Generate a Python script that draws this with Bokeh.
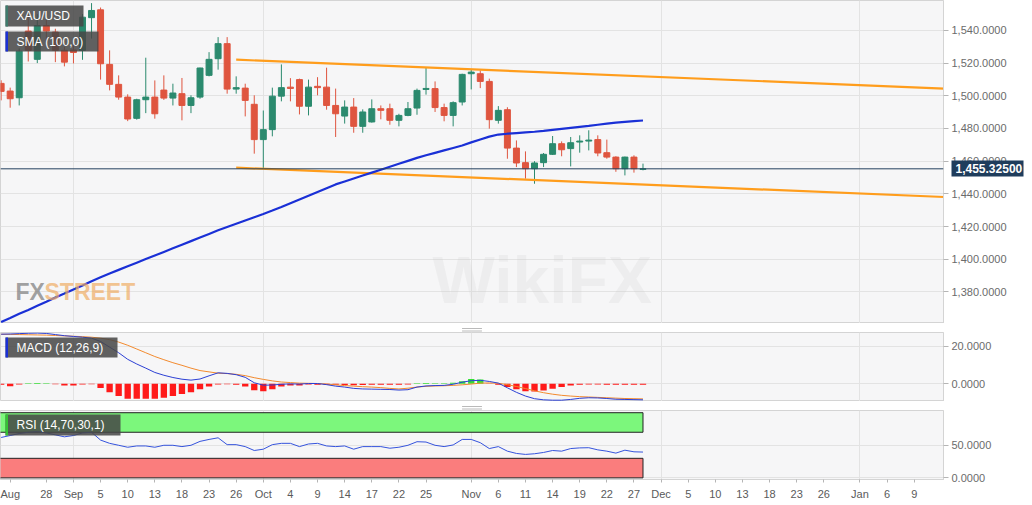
#!/usr/bin/env python3

import numpy as np
import pandas as pd
from bokeh.embed import file_html
from bokeh.layouts import column
from bokeh.models import (BoxAnnotation, ColumnDataSource, FixedTicker, Label,
                          LinearAxis, NumeralTickFormatter, Range1d, Span)
from bokeh.plotting import figure
from bokeh.resources import INLINE


# daily XAU/USD candles, 21 Aug - 28 Nov 2019
dates = pd.bdate_range("2019-08-21", "2019-11-28")

opens = [1507.6, 1502.9, 1498.8, 1539.6, 1522.3, 1543.0, 1539.0, 1527.8,
         1528.0, 1527.8, 1547.8, 1552.6, 1519.2, 1507.0, 1499.2, 1486.2, 1497.6, 1499.2,
         1503.5, 1498.6, 1501.3, 1494.1, 1499.2, 1512.5, 1522.7, 1531.9, 1504.1, 1504.7,
         1494.8, 1473.2, 1479.3, 1499.8, 1505.3, 1509.9, 1493.6, 1505.8, 1505.3, 1494.1,
         1487.6, 1493.1, 1481.3, 1484.0, 1492.1, 1492.1, 1485.0, 1488.0, 1492.5, 1503.9,
         1504.4, 1492.8, 1488.0, 1496.2, 1513.5, 1513.5, 1508.8, 1485.0, 1491.5, 1468.0,
         1459.1, 1455.4, 1459.1, 1464.2, 1470.7, 1467.7, 1471.7, 1472.3, 1473.2, 1465.2,
         1462.5, 1455.4, 1462.5, 1455.0]
highs = [1509.5, 1505.0, 1529.0, 1550.0, 1550.0, 1547.0, 1541.0, 1530.0,
         1531.0, 1550.0, 1556.7, 1554.0, 1527.8, 1512.5, 1500.9, 1498.2, 1523.3, 1509.4,
         1512.5, 1507.4, 1510.9, 1500.3, 1517.2, 1526.7, 1535.9, 1535.9, 1511.9, 1507.4,
         1500.3, 1491.0, 1505.0, 1519.2, 1510.8, 1510.5, 1509.9, 1511.4, 1517.2, 1504.4,
         1497.2, 1498.6, 1491.7, 1497.8, 1494.1, 1495.2, 1489.0, 1496.2, 1504.4, 1517.6,
         1508.8, 1495.2, 1496.6, 1513.5, 1516.2, 1515.5, 1510.5, 1493.7, 1493.0, 1472.7,
         1466.0, 1460.0, 1465.0, 1475.4, 1472.1, 1474.8, 1475.8, 1478.9, 1475.8, 1473.2,
         1463.0, 1462.8, 1463.6, 1458.5]
lows = [1497.2, 1492.7, 1494.1, 1521.0, 1520.0, 1532.0, 1520.6, 1518.0,
        1519.8, 1522.0, 1535.0, 1509.9, 1503.3, 1497.6, 1484.5, 1485.4, 1489.4, 1486.0,
        1497.5, 1494.1, 1485.0, 1489.4, 1498.2, 1511.9, 1516.0, 1501.3, 1501.3, 1487.4,
        1464.6, 1455.8, 1475.2, 1496.6, 1496.6, 1488.6, 1488.0, 1500.3, 1491.5, 1474.8,
        1483.0, 1477.4, 1477.4, 1483.6, 1485.6, 1482.3, 1481.3, 1487.5, 1488.4, 1500.7,
        1490.1, 1484.4, 1481.3, 1494.1, 1503.9, 1504.7, 1479.9, 1483.0, 1461.5, 1456.4,
        1449.3, 1446.2, 1456.4, 1463.8, 1463.0, 1456.8, 1465.2, 1466.6, 1463.0, 1461.5,
        1453.5, 1451.3, 1453.0, 1454.4]
closes = [1502.7, 1498.2, 1527.3, 1527.8, 1543.0, 1539.6, 1527.8, 1520.6,
          1526.5, 1548.1, 1552.2, 1519.6, 1507.0, 1499.2, 1485.8, 1497.6, 1499.2, 1489.0,
          1498.6, 1501.7, 1494.1, 1498.8, 1517.0, 1522.3, 1531.9, 1504.1, 1505.0, 1497.2,
          1473.2, 1479.3, 1499.8, 1505.0, 1504.5, 1493.6, 1505.3, 1505.0, 1494.1, 1489.0,
          1493.1, 1481.3, 1490.1, 1492.1, 1491.1, 1485.0, 1488.0, 1492.1, 1503.3, 1504.5,
          1492.8, 1488.0, 1495.8, 1513.1, 1514.5, 1508.8, 1485.4, 1491.1, 1468.0, 1458.9,
          1455.4, 1458.9, 1464.2, 1470.7, 1467.0, 1471.3, 1472.3, 1472.9, 1465.0, 1462.5,
          1455.4, 1462.5, 1455.4, 1455.3]

sma_100 = [1361.6, 1364.0, 1366.6, 1369.0, 1371.5, 1374.0, 1376.6, 1379.0,
           1381.5, 1384.0, 1386.6, 1389.0, 1391.3, 1393.5, 1395.7, 1397.9, 1400.1, 1402.3,
           1404.5, 1406.7, 1408.9, 1411.1, 1413.3, 1415.5, 1417.7, 1419.7, 1421.7, 1423.7,
           1425.7, 1427.7, 1429.8, 1432.0, 1434.3, 1436.6, 1438.9, 1441.2, 1443.5, 1445.8,
           1447.6, 1449.4, 1451.2, 1453.0, 1454.8, 1456.6, 1458.4, 1460.2, 1462.0, 1463.6,
           1465.1, 1466.6, 1468.1, 1469.6, 1471.5, 1473.3, 1475.0, 1476.3, 1476.8, 1477.2,
           1477.6, 1478.0, 1478.5, 1479.2, 1479.8, 1480.4, 1481.0, 1481.6, 1482.3, 1483.0,
           1483.6, 1484.1, 1484.5, 1484.9]

macd_line = [26.4, 26.5, 26.7, 26.9, 27.0, 26.8, 26.2, 25.6,
             25.2, 24.8, 24.3, 22.5, 19.5, 16.5, 13.0, 10.5, 8.3, 6.0,
             4.5, 3.3, 2.4, 1.9, 2.5, 4.2, 5.8, 5.5, 4.8, 3.4,
             0.5, -0.8, -0.7, -0.3, -0.1, -0.2, 0.1, 0.1, -0.5, -1.3,
             -1.8, -2.5, -2.8, -2.9, -3.0, -3.1, -3.4, -3.2, -1.8, -1.2,
             -1.0, -0.9, -0.3, 0.8, 1.6, 1.8, 1.2, 0.3, -2.2, -4.6,
             -6.6, -8.0, -8.6, -8.8, -8.8, -8.4, -7.8, -7.5, -7.6, -7.9,
             -8.3, -8.4, -8.5, -8.6]
macd_signal = [26.4, 26.3, 26.2, 26.1, 26.0, 25.9, 25.7, 25.5,
               25.3, 25.1, 24.8, 24.3, 23.5, 22.2, 20.5, 18.5, 16.5, 14.5,
               12.8, 11.2, 9.8, 8.3, 7.0, 6.3, 5.6, 5.4, 5.0, 4.3,
               3.2, 2.3, 1.5, 0.9, 0.6, 0.3, 0.2, 0.1, -0.2, -0.6,
               -1.0, -1.3, -1.6, -1.8, -2.1, -2.5, -2.8, -2.4, -1.8, -1.4,
               -1.2, -1.1, -0.9, -0.6, -0.2, 0.3, 0.4, 0.2, -0.5, -1.5,
               -2.6, -3.8, -4.8, -5.6, -6.2, -6.6, -6.9, -7.1, -7.3, -7.5,
               -7.7, -7.9, -8.0, -8.1]
macd_hist = [-0.5, -1.4, -0.4, 0.3, 0.4, 0.2, -0.3, -1.0,
             -1.0, -0.4, -0.3, -2.3, -4.5, -6.5, -8.0, -8.0, -8.0, -8.0,
             -7.5, -6.5, -5.5, -4.5, -3.0, -1.5, -0.4, -0.3, -0.5, -1.5,
             -3.5, -4.0, -3.0, -1.5, -1.0, -1.0, -0.4, -0.5, -0.5, -0.6,
             -0.7, -0.8, -0.7, -0.6, -0.5, -0.5, -0.6, -0.4, 0.3, 0.4,
             0.2, 0.2, 0.5, 1.3, 2.5, 2.2, -0.2, -0.5, -1.8, -3.0,
             -4.0, -4.2, -3.6, -2.7, -1.8, -0.9, -0.5, -0.4, -0.4, -0.5,
             -0.5, -0.5, -0.5, -0.5]

rsi_14 = [62, 65, 68, 70, 71, 69, 66, 63,
          65, 69, 70, 58, 53, 50, 47, 49, 49, 47,
          50, 50, 48, 50, 56, 59, 61.5, 51, 51, 48,
          42, 44, 51, 53, 53, 48, 52, 53, 49, 48,
          49, 44, 48, 48, 48, 45.5, 47, 50, 55.5, 55,
          50, 48, 50.5, 59, 59, 54, 45, 48, 41, 37.5,
          36, 37, 39, 42, 41, 45, 46, 46.3, 43, 41,
          38, 42.5, 40, 39.6]

last_price = 1455.325
trend_dates = ["2019-09-26", "2020-01-16"]
trend_upper = [1522.1, 1504.0]
trend_lower = [1456.0, 1437.7]

price_ticks = [1380, 1400, 1420, 1440, 1460, 1480, 1500, 1520, 1540]
macd_ticks = [0, 20]
rsi_ticks = [0, 50]
rsi_zones = [(70, 100, "#7cf77c"), (0, 30, "#fa7d7d")]

tick_dates = ["2019-08-22", "2019-08-28", "2019-09-02", "2019-09-05", "2019-09-10",
              "2019-09-13", "2019-09-18", "2019-09-23", "2019-09-26", "2019-10-01",
              "2019-10-04", "2019-10-09", "2019-10-14", "2019-10-17", "2019-10-22",
              "2019-10-25", "2019-11-01", "2019-11-06", "2019-11-11", "2019-11-14",
              "2019-11-19", "2019-11-22", "2019-11-27", "2019-12-02", "2019-12-05",
              "2019-12-10", "2019-12-13", "2019-12-18", "2019-12-23", "2019-12-26",
              "2020-01-01", "2020-01-06", "2020-01-09"]
tick_labels = ["Aug", "28", "Sep", "5", "10", "13", "18", "23", "26", "Oct", "4", "9",
               "14", "17", "22", "25", "Nov", "6", "11", "14", "19", "22", "27", "Dec",
               "5", "10", "13", "18", "23", "26", "Jan", "6", "9"]
month_dates = ["2019-09-02", "2019-10-01", "2019-11-01", "2019-12-02", "2020-01-01"]

GREEN = "#2b8a6e"
RED = "#df553f"
NAVY = "#1f3d5c"
BG = "#f6f6f7"
OUTLINE = "#d4d4d4"
GRID = "#e3e3e3"
FONT = "Liberation Sans"
W = 943
RIGHT = 81
H_PRICE = 323
H_MACD = 69
H_RSI = 69


def tday(d):
    # trading-day index counted from 2 Sep 2019
    return np.busday_count("2019-09-02", np.array(d, dtype="datetime64[D]"))


x = tday(dates.values.astype("datetime64[D]"))
tick_x = [int(t) for t in tday(tick_dates)]
month_x = [int(t) for t in tday(month_dates)]
xr = Range1d(-8.07, 96.24)


def panel(height, y_range, ticks, fmt, bottom=0):
    f = figure(frame_width=W, frame_height=height, x_range=xr, y_range=y_range,
               y_axis_location="right", x_axis_location="below" if bottom else None,
               output_backend="svg", toolbar_location=None,
               min_border_left=0, min_border_right=RIGHT, min_border_top=0,
               min_border_bottom=bottom, background_fill_color=BG,
               border_fill_color="white", outline_line_color=OUTLINE)
    f.yaxis.ticker = FixedTicker(ticks=ticks)
    f.yaxis.formatter = NumeralTickFormatter(format=fmt)
    f.yaxis.major_label_text_font = FONT
    f.yaxis.major_label_text_font_size = "11px"
    f.yaxis.major_label_text_color = "#6b6b6b"
    f.yaxis.major_tick_out = 5
    f.yaxis.major_tick_in = 0
    f.yaxis.major_tick_line_color = "#b5b5b5"
    f.yaxis.minor_tick_line_color = None
    f.yaxis.axis_line_color = OUTLINE
    f.yaxis.major_label_standoff = 3
    f.ygrid.grid_line_color = GRID
    f.xgrid.ticker = FixedTicker(ticks=month_x)
    f.xgrid.grid_line_color = GRID
    return f


def tag(f, yr, fh, text, strip, width, height=20, top=5):
    kx = (xr.end - xr.start) / W
    ky = (yr.end - yr.start) / fh
    y_top = yr.end - top * ky
    y_bot = yr.end - (top + height) * ky
    f.add_layout(BoxAnnotation(left=xr.start + 5 * kx, right=xr.start + (5 + width) * kx,
                               top=y_top, bottom=y_bot, fill_color="#474747",
                               fill_alpha=0.86, line_color=None))
    f.add_layout(BoxAnnotation(left=xr.start + 5 * kx, right=xr.start + 7.5 * kx,
                               top=y_top, bottom=y_bot, fill_color=strip,
                               fill_alpha=1, line_color=None))
    f.add_layout(Label(x=xr.start + 16 * kx, y=(y_top + y_bot) / 2, text=text,
                       text_baseline="middle", text_color="white",
                       text_font=FONT, text_font_size="12px"))


def handle():
    h = figure(frame_width=W, frame_height=9, x_range=xr, y_range=Range1d(0, 9),
               x_axis_location=None, y_axis_location=None, output_backend="svg",
               toolbar_location=None, min_border_left=0, min_border_right=RIGHT,
               min_border_top=0, min_border_bottom=0, outline_line_color=None,
               background_fill_color="white", border_fill_color="white")
    h.grid.visible = False
    mid = (xr.start + xr.end) / 2
    h.segment(x0=mid - 1.1, x1=mid + 1.1, y0=[2, 4.5, 7], y1=[2, 4.5, 7],
              line_color="#a8a8a8", line_width=0.8)
    return h


# ---- price panel
yr_price = Range1d(1360.7, 1558.3)
p = panel(H_PRICE, yr_price, price_ticks, "0,0.0000")

kx = (xr.end - xr.start) / W
p.add_layout(Label(x=xr.start + 15 * kx, y=1371.8, text="FX", text_font=FONT,
                   text_font_style="bold", text_font_size="23px", text_color="#7a7a7a",
                   text_alpha=0.7))
p.add_layout(Label(x=xr.start + 44 * kx, y=1371.8, text="STREET", text_font=FONT,
                   text_font_style="bold", text_font_size="23px", text_color="#f0ad63",
                   text_alpha=0.7))
p.add_layout(Label(x=xr.start + 432 * kx, y=1364.5, text="WikiFX", text_font=FONT,
                   text_font_style="bold", text_font_size="66px", text_color="#cccccc",
                   text_alpha=0.2))

o = np.array(opens)
c = np.array(closes)
candles = ColumnDataSource(dict(
    x=x, high=highs, low=lows, top=np.maximum(o, c), bottom=np.minimum(o, c),
    color=np.where(c >= o, GREEN, RED),
))
p.segment(x0="x", x1="x", y0="low", y1="high", line_color="color", line_width=1,
          source=candles)
p.vbar(x="x", top="top", bottom="bottom", width=0.66, fill_color="color",
       line_color="color", line_width=1, source=candles)

tx = tday(trend_dates)
p.line(tx, trend_upper, line_color="#ff9d1c", line_width=2.2)
p.line(tx, trend_lower, line_color="#ff9d1c", line_width=2.2)
p.line(x, sma_100, line_color="#1a30d6", line_width=2.2)

p.add_layout(Span(location=last_price, dimension="width", line_color="#24405e",
                  line_width=1))

# last-price tag: a second right axis whose single thick tick is pulled back
# over the price labels and carries the value as its label
price_axis_w = 63
tag_axis = LinearAxis(ticker=FixedTicker(ticks=[last_price]),
                      formatter=NumeralTickFormatter(format="0,0.00000"))
tag_axis.axis_line_color = None
tag_axis.minor_tick_line_color = None
tag_axis.major_tick_line_color = NAVY
tag_axis.major_tick_line_width = 16
tag_axis.major_tick_in = price_axis_w - 5
tag_axis.major_tick_out = 14
tag_axis.major_label_standoff = 9 - price_axis_w - 14
tag_axis.major_label_text_font = FONT
tag_axis.major_label_text_font_style = "bold"
tag_axis.major_label_text_font_size = "12px"
tag_axis.major_label_text_color = "white"
p.add_layout(tag_axis, "right")

tag(p, yr_price, H_PRICE, "XAU/USD", "#3f7a6c", 78, height=21, top=5)
tag(p, yr_price, H_PRICE, "SMA (100,0)", "#1a30d6", 93, height=20, top=31)

# ---- MACD panel
yr_macd = Range1d(-9.5, 27.3)
m = panel(H_MACD, yr_macd, macd_ticks, "0.0000")
hist = np.array(macd_hist)
hsrc = ColumnDataSource(dict(x=x, top=hist, color=np.where(hist > 0, "#34e034", "#ff1a1a")))
m.vbar(x="x", top="top", bottom=0, width=0.7, fill_color="color", line_color=None,
       source=hsrc)
m.line(x, macd_signal, line_color="#f28a2e", line_width=1)
m.line(x, macd_line, line_color="#2b3fd4", line_width=1)
tag(m, yr_macd, H_MACD, "MACD (12,26,9)", "#1a30d6", 112, height=20, top=5)

# ---- RSI panel
yr_rsi = Range1d(-2.5, 103.4)
r = panel(H_RSI, yr_rsi, rsi_ticks, "0.0000", bottom=26)
for lo, hi, col in rsi_zones:
    r.quad(left=x[0] - 0.5, right=x[-1], bottom=lo, top=hi, fill_color=col,
           line_color="#222222", line_width=1)
r.line(x, rsi_14, line_color="#3553dc", line_width=1)
tag(r, yr_rsi, H_RSI, "RSI (14,70,30,1)", "#35c235", 115, height=21, top=4)

r.xaxis.ticker = FixedTicker(ticks=tick_x)
r.xaxis.major_label_overrides = dict(zip(tick_x, tick_labels))
r.xaxis.major_label_text_font = FONT
r.xaxis.major_label_text_font_size = "11px"
r.xaxis.major_label_text_color = "#5a5a5a"
r.xaxis.major_tick_out = 3
r.xaxis.major_tick_in = 0
r.xaxis.major_tick_line_color = "#b5b5b5"
r.xaxis.minor_tick_line_color = None
r.xaxis.axis_line_color = OUTLINE
r.xaxis.major_label_standoff = 5

layout = column(p, handle(), m, handle(), r)
open("out.html", "w").write(file_html(layout, INLINE))
